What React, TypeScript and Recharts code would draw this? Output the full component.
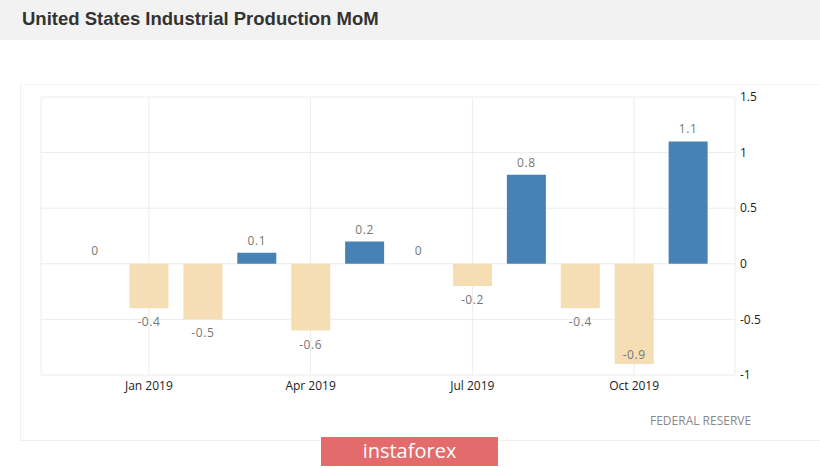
import React from 'react';
import { BarChart, Bar, XAxis, YAxis, CartesianGrid, Cell, LabelList } from 'recharts';

// monthly change, Dec 2018 .. Nov 2019
const months = [
    'Dec 2018', 'Jan 2019', 'Feb 2019', 'Mar 2019', 'Apr 2019', 'May 2019',
    'Jun 2019', 'Jul 2019', 'Aug 2019', 'Sep 2019', 'Oct 2019', 'Nov 2019',
];
const values = [0, -0.4, -0.5, 0.1, -0.6, 0.2, 0, -0.2, 0.8, -0.4, -0.9, 1.1];
const xTicks = ['Jan 2019', 'Apr 2019', 'Jul 2019', 'Oct 2019'];
const yTicks = [-1, -0.5, 0, 0.5, 1, 1.5];

const UP = '#4682b4';
const DOWN = '#f5deb3';

const data = months.map((m, i) => ({ month: m, value: values[i] }));

const ValueLabel = (props: any) => {
    const { x, y, width, height, value } = props;
    const top = Math.min(y, y + height);
    const bottom = Math.max(y, y + height);
    const cx = x + width / 2;
    let ty = top - 8;
    if (value < 0) {
        // the deepest bar keeps its label inside
        ty = value <= -0.8 ? bottom - 5 : bottom + 18;
    }
    return (
        <text x={cx} y={ty} textAnchor="middle" fill="#777" fontSize={12}
            fontFamily="'Open Sans', sans-serif" letterSpacing={0.6}>
            {value}
        </text>
    );
};

const App: React.FC = () => {
    return (
        <div style={{ position: 'absolute', left: 0, top: 0, width: 820, height: 468, background: '#fff', overflow: 'hidden' }}>
            <div style={{ position: 'absolute', left: 0, top: 0, width: 820, height: 40, background: '#f2f2f2' }} />
            <div style={{
                position: 'absolute', left: 22, top: 8, fontFamily: 'Arial, "Liberation Sans", sans-serif',
                fontWeight: 'bold', fontSize: 18.5, color: '#333', whiteSpace: 'nowrap',
            }}>
                United States Industrial Production MoM
            </div>
            <div style={{
                position: 'absolute', left: 20, top: 84, width: 820, height: 355,
                borderLeft: '1px solid #f0f0f0', borderTop: '1px solid #f6f6f6', borderBottom: '1px solid #f0f0f0',
            }} />
            <div style={{ position: 'absolute', left: 0, top: 0 }}>
                <BarChart
                    width={820}
                    height={468}
                    data={data}
                    margin={{ top: 97, right: 35, bottom: 63, left: 41 }}
                    barCategoryGap="14%"
                >
                    <CartesianGrid stroke="#ececec" />
                    <XAxis
                        dataKey="month"
                        ticks={xTicks}
                        interval={0}
                        padding={{ left: 27, right: 20 }}
                        axisLine={false}
                        tickLine={false}
                        tickSize={4}
                        tickMargin={2}
                        height={30}
                        tick={{ fill: '#222', fontSize: 12, fontFamily: "'Open Sans', sans-serif" }}
                    />
                    <YAxis
                        orientation="right"
                        domain={[-1, 1.5]}
                        ticks={yTicks}
                        axisLine={false}
                        tickLine={false}
                        tickSize={3}
                        tickMargin={2}
                        width={50}
                        tick={{ fill: '#222', fontSize: 12, fontFamily: "'Open Sans', sans-serif" }}
                    />
                    {/* zero months get a 1px transparent bar so their label still shows */}
                    <Bar dataKey="value" minPointSize={1} isAnimationActive={false}>
                        {data.map((d, i) => (
                            <Cell key={i} fill={d.value === 0 ? 'transparent' : d.value > 0 ? UP : DOWN} />
                        ))}
                        <LabelList dataKey="value" content={ValueLabel} />
                    </Bar>
                </BarChart>
            </div>
            <div style={{
                position: 'absolute', left: 650, top: 412, fontFamily: "'Open Sans', sans-serif",
                fontSize: 12, color: '#888', whiteSpace: 'nowrap',
            }}>
                FEDERAL RESERVE
            </div>
            <div style={{
                position: 'absolute', left: 321, top: 437, width: 177, height: 29, background: '#e46b6b',
                color: '#fff', fontFamily: "'Open Sans', sans-serif", fontSize: 20, lineHeight: '28px',
                textAlign: 'center',
            }}>
                instaforex
            </div>
        </div>
    );
};

export default App;
